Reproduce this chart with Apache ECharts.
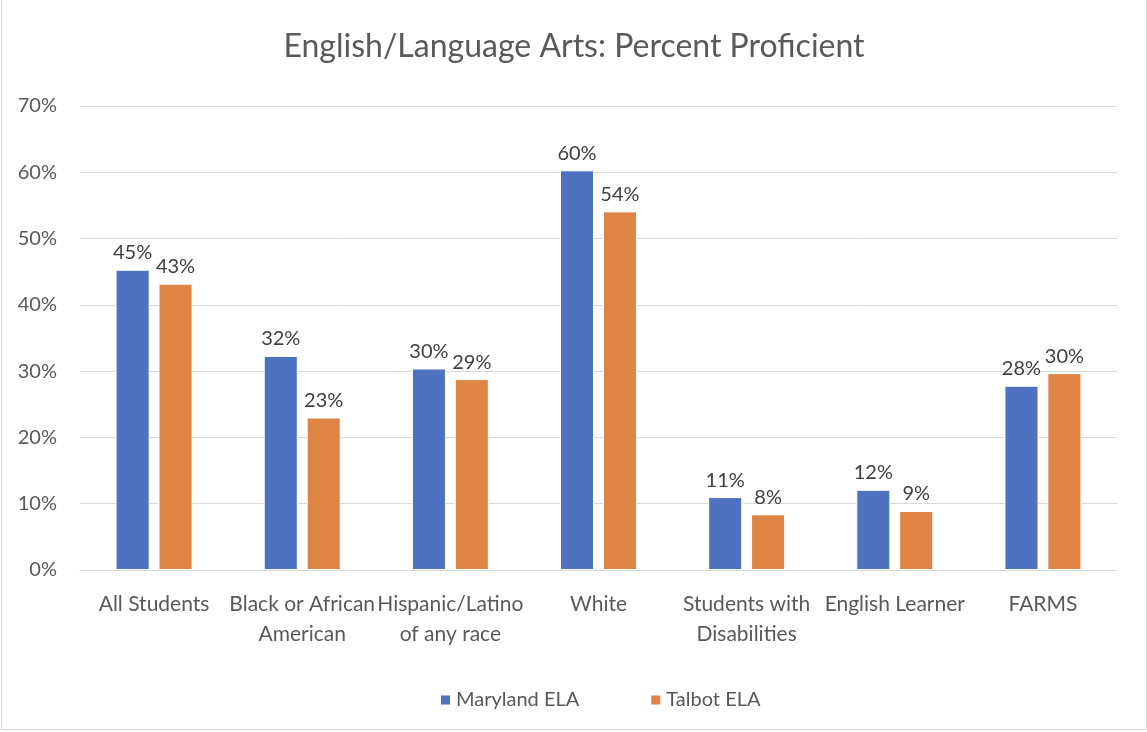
<!DOCTYPE html>
<html>
<head>
<meta charset="utf-8">
<script src="https://cdn.jsdelivr.net/npm/echarts@6/dist/echarts.min.js"></script>
<style>
    html, body { margin: 0; padding: 0; background: #fff; }
    #chart { position: absolute; left: 1px; top: 0; width: 1144px; height: 729px; border: 1px solid #d9d9d9; border-top: none; }
</style>
</head>
<body>
<div id="chart"></div>
<script>
// Chart data
var categories = ['All Students', 'Black or African\nAmerican', 'Hispanic/Latino\nof any race', 'White', 'Students with\nDisabilities', 'English Learner', 'FARMS'];
var marylandEla = [45.3, 32.3, 30.4, 60.3, 11.0, 12.1, 27.8];
var talbotEla = [43.2, 23.0, 28.8, 54.1, 8.4, 8.9, 29.7];
var seriesNames = ['Maryland ELA', 'Talbot ELA'];

var textColor = '#595959';
var fontFamily = 'Lato, "Open Sans", sans-serif';

var chart = echarts.init(document.getElementById('chart'));

var labelStyle = {
    show: true,
    position: 'top',
    distance: 7,
    color: '#404040',
    fontSize: 20,
    fontFamily: fontFamily,
    formatter: function(p) { return Math.round(p.value) + '%'; }
};

chart.setOption({
    animation: false,
    color: ['#4E71C0', '#DF8444'],
    textStyle: { fontFamily: fontFamily },

    title: {
        text: 'English/Language Arts: Percent Proficient',
        left: 'center',
        top: 26,
        textStyle: { color: textColor, fontSize: 32, fontWeight: 'normal', fontFamily: fontFamily }
    },

    legend: {
        data: seriesNames,
        bottom: 14,
        left: 432,
        itemWidth: 11,
        itemHeight: 11,
        itemGap: 70,
        icon: 'rect',
        textStyle: { color: textColor, fontSize: 20, fontFamily: fontFamily }
    },

    grid: {
        left: 78,
        right: 29,
        top: 106,
        bottom: 159,
        containLabel: false
    },

    xAxis: {
        type: 'category',
        data: categories,
        axisTick: { show: false },
        axisLine: { lineStyle: { color: '#d9d9d9', width: 1 } },
        axisLabel: {
            color: textColor,
            fontSize: 21,
            lineHeight: 30,
            margin: 19,
            interval: 0,
            fontFamily: fontFamily
        }
    },

    yAxis: {
        type: 'value',
        min: 0,
        max: 70,
        interval: 10,
        axisLine: { show: false },
        axisTick: { show: false },
        splitLine: { lineStyle: { color: '#d9d9d9', width: 1 } },
        axisLabel: {
            formatter: '{value}%',
            color: textColor,
            fontSize: 20,
            margin: 23,
            fontFamily: fontFamily
        }
    },

    series: [{
        name: seriesNames[0],
        type: 'bar',
        data: marylandEla,
        barWidth: '23%',
        barGap: '26%',
        itemStyle: { borderColor: '#fff', borderWidth: 1 },
        label: labelStyle
    }, {
        name: seriesNames[1],
        type: 'bar',
        data: talbotEla,
        barWidth: '23%',
        itemStyle: { borderColor: '#fff', borderWidth: 1 },
        label: labelStyle
    }]
});
</script>
</body>
</html>
